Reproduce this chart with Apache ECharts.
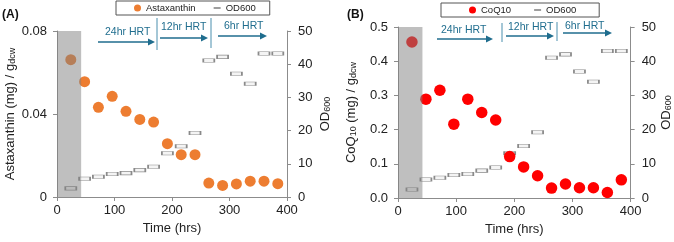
<!DOCTYPE html>
<html>
<head>
<meta charset="utf-8">
<script src="https://cdn.jsdelivr.net/npm/echarts@6/dist/echarts.min.js"></script>
<style>
html,body{margin:0;padding:0;background:#fff;}
#c{width:674px;height:242px;}
</style>
</head>
<body>
<div id="c"></div>
<script>
// ---- data ----
const hours = [24, 48, 72, 96, 120, 144, 168, 192, 216, 240, 264, 288, 312, 336, 360, 384];
const astaxanthin = [0.0662, 0.0556, 0.0432, 0.0485, 0.0413, 0.0374, 0.0361, 0.0257, 0.0204, 0.0204, 0.0067, 0.0056, 0.0063, 0.0076, 0.0076, 0.0064];
const odA = [2.6, 5.5, 6.1, 6.9, 7.2, 8.1, 9.1, 13.2, 15.3, 19.3, 41.1, 42.2, 37.1, 34.1, 43.2, 43.2];
const coq10 = [0.456, 0.289, 0.315, 0.216, 0.289, 0.250, 0.228, 0.121, 0.091, 0.065, 0.029, 0.041, 0.030, 0.030, 0.016, 0.053];
const odB = [2.5, 5.4, 5.9, 6.7, 7.0, 8.0, 8.9, 13.1, 15.2, 19.2, 41.0, 42.0, 37.0, 34.0, 43.0, 43.0];
const batchPhase = [0, 42];
const xTicks = [0, 100, 200, 300, 400];
const hrtLabels = ['24hr HRT', '12hr HRT', '6hr HRT'];

const pairs = (ys) => hours.map((h, i) => [h, ys[i]]);

const FONT = 'Liberation Sans';
const AX = '#8c8c8c';
const TXT = '#222';
const BLUE = '#1f6d8e';

function xAxisCfg(gi) {
  return {
    gridIndex: gi, type: 'value', min: xTicks[0], max: xTicks[xTicks.length - 1], interval: xTicks[1] - xTicks[0],
    name: 'Time (hrs)', nameLocation: 'middle', nameGap: 25,
    nameTextStyle: { fontSize: 13, color: TXT },
    axisLine: { show: true, onZero: false, lineStyle: { color: AX } },
    axisTick: { show: true, length: 4, lineStyle: { color: AX } },
    axisLabel: { fontSize: 13, color: TXT, margin: 7 },
    splitLine: { show: false }
  };
}
const subRich = {
  n: { fontSize: 13, color: TXT, lineHeight: 15, verticalAlign: 'bottom' },
  s: { fontSize: 9, color: TXT, lineHeight: 6, verticalAlign: 'bottom' }
};
function leftY(gi, max, interval, name, fmt) {
  return {
    gridIndex: gi, type: 'value', position: 'left', min: 0, max: max, interval: interval,
    name: name, nameLocation: 'middle', nameRotate: 90, nameGap: 40,
    nameTextStyle: { rich: subRich },
    axisLine: { show: true, lineStyle: { color: AX } },
    axisTick: { show: true, length: 4, lineStyle: { color: AX } },
    axisLabel: { fontSize: 13, color: TXT, margin: 10, formatter: fmt },
    splitLine: { show: false }
  };
}
function rightY(gi, gap) {
  return {
    gridIndex: gi, type: 'value', position: 'right', min: 0, max: 50, interval: 10,
    name: '{n|OD}{s|600}', nameLocation: 'middle', nameRotate: 90, nameGap: gap,
    nameTextStyle: { rich: subRich },
    axisLine: { show: true, lineStyle: { color: AX } },
    axisTick: { show: true, length: 4, lineStyle: { color: AX } },
    axisLabel: { fontSize: 13, color: TXT, margin: 11 },
    splitLine: { show: false }
  };
}
const odStyle = {
  type: 'scatter', symbol: 'rect', symbolSize: [11, 3.5],
  itemStyle: { color: '#f4f4f4', borderColor: '#8a8a8a', borderWidth: 1, opacity: 1 }, z: 2
};
const shade = {
  z: 6, silent: true,
  itemStyle: { color: 'rgba(128,128,128,0.5)' },
  data: [[{ xAxis: batchPhase[0] }, { xAxis: batchPhase[1] }]]
};
const dashIcon = 'path://M0,0L0.01,0L0,0.01Z M0,3.9L10,3.9L10,6.1L0,6.1Z M0,10L0.01,10L0,9.99Z';

// annotation graphics (pixel layout)
function arrow(x1, x2, y) {
  return [
    { type: 'line', shape: { x1: x1, y1: y, x2: x2 - 5, y2: y }, style: { stroke: BLUE, lineWidth: 1.6 } },
    { type: 'polygon', shape: { points: [[x2, y], [x2 - 7, y - 3.5], [x2 - 7, y + 3.5]] }, style: { fill: BLUE } }
  ];
}
function vline(x, y1, y2) {
  return { type: 'line', shape: { x1: x, y1: y1, x2: x, y2: y2 }, style: { stroke: '#4a8fae', lineWidth: 1 } };
}
function label(t, x, y) {
  return { type: 'text', x: x, y: y, style: { text: t, fontSize: 10.5, fontFamily: FONT, fill: BLUE, verticalAlign: 'middle' } };
}
const graphics = [].concat(
  label(hrtLabels[0], 105, 32), arrow(98, 155, 42), vline(157, 18, 50),
  label(hrtLabels[1], 161, 27), arrow(160, 208, 38), vline(211, 18, 48),
  label(hrtLabels[2], 224, 26), arrow(218, 267, 36),
  label(hrtLabels[0], 441, 30), arrow(437, 493, 39), vline(502, 23, 42),
  label(hrtLabels[1], 508, 27), arrow(506, 554, 36), vline(557, 22, 41),
  label(hrtLabels[2], 565, 26), arrow(563, 612, 33),
  [
    { type: 'text', x: 2, y: 15, style: { text: '(A)', fontSize: 12, fontWeight: 'bold', fontFamily: FONT, fill: '#111', verticalAlign: 'middle' } },
    { type: 'text', x: 347, y: 15, style: { text: '(B)', fontSize: 12, fontWeight: 'bold', fontFamily: FONT, fill: '#111', verticalAlign: 'middle' } }
  ]
);

const chart = echarts.init(document.getElementById('c'), null, { renderer: 'canvas' });
chart.setOption({
  animation: false,
  backgroundColor: '#fff',
  textStyle: { fontFamily: FONT },
  grid: [
    { left: 57, top: 31, width: 230, height: 166 },
    { left: 398, top: 27, width: 234, height: 171 }
  ],
  legend: [
    {
      left: 116, top: 1, padding: [2, 14, 2, 18], itemGap: 18, itemWidth: 7, itemHeight: 7,
      borderColor: '#555', borderWidth: 1, selectedMode: false,
      textStyle: { fontSize: 9.5, color: TXT },
      data: [{ name: 'Astaxanthin', icon: 'circle' },
             { name: 'OD600', icon: dashIcon, itemStyle: { color: '#7f7f7f', borderWidth: 0 } }]
    },
    {
      left: 441, top: 3, padding: [2, 23, 2, 28], itemGap: 23, itemWidth: 7, itemHeight: 7,
      borderColor: '#555', borderWidth: 1, selectedMode: false,
      textStyle: { fontSize: 9.5, color: TXT },
      data: [{ name: 'CoQ10', icon: 'circle' },
             { name: 'OD600', icon: dashIcon, itemStyle: { color: '#7f7f7f', borderWidth: 0 } }]
    }
  ],
  xAxis: [xAxisCfg(0), xAxisCfg(1)],
  yAxis: [
    leftY(0, 0.08, 0.04, '{n|Astaxanthin (mg) / g}{s|dcw}', null),
    rightY(0, 30),
    leftY(1, 0.5, 0.1, '{n|CoQ}{s|10}{n| (mg) / g}{s|dcw}', v => v.toFixed(1)),
    rightY(1, 26)
  ],
  series: [
    Object.assign({}, odStyle, { name: 'OD600', xAxisIndex: 0, yAxisIndex: 1, data: pairs(odA) }),
    { name: 'Astaxanthin', type: 'scatter', xAxisIndex: 0, yAxisIndex: 0, symbolSize: 11,
      itemStyle: { color: '#ed7d31', opacity: 1 }, z: 3, data: pairs(astaxanthin), markArea: shade },
    Object.assign({}, odStyle, { name: 'OD600', xAxisIndex: 1, yAxisIndex: 3, data: pairs(odB) }),
    { name: 'CoQ10', type: 'scatter', xAxisIndex: 1, yAxisIndex: 2, symbolSize: 11.5,
      itemStyle: { color: '#ff0000', opacity: 1 }, z: 3, data: pairs(coq10), markArea: shade }
  ],
  graphic: graphics
});
</script>
</body>
</html>
